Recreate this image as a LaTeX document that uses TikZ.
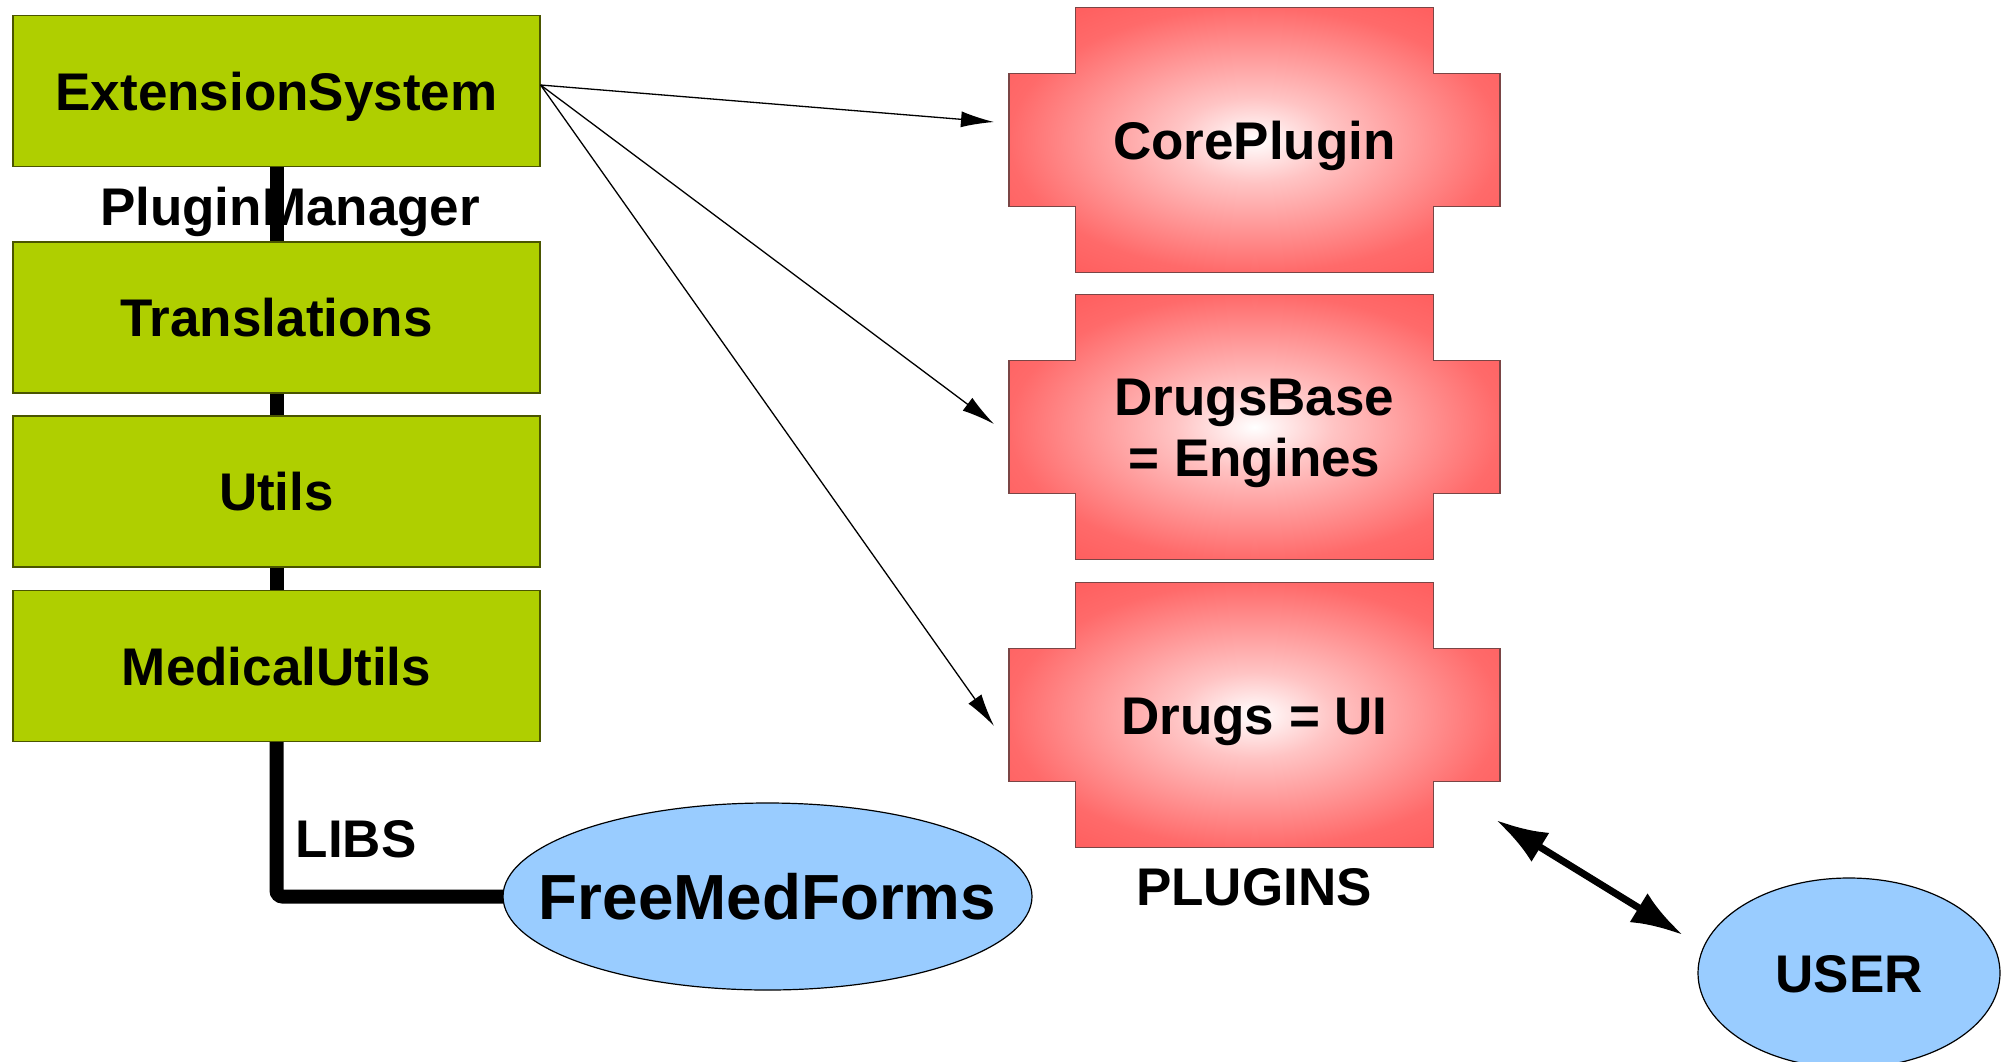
\documentclass[tikz,border=0pt]{standalone}
\usepackage{fontspec}
\setmainfont{Liberation Sans}
\usepackage{tikz}
\usetikzlibrary{shapes.geometric, arrows.meta, positioning, calc}

\definecolor{libgreen}{HTML}{AFCF00}
\definecolor{libedge}{HTML}{4A5500}
\definecolor{appblue}{HTML}{99CCFF}
\definecolor{plugin}{HTML}{FFC4C4}
\definecolor{plugmid}{HTML}{FF6A6A}
\definecolor{plugout}{HTML}{FF3A3A}
\definecolor{plugedge}{HTML}{7A4545}
\pgfdeclareradialshading{plugglow}{\pgfpoint{0bp}{0bp}}{color(0bp)=(white); color(8bp)=(plugin); color(25bp)=(plugmid); color(50bp)=(plugout); color(71bp)=(plugout)}

\begin{document}
\begin{tikzpicture}[x=0.5pt, y=-0.5pt]
\tikzstyle{lib} = [rectangle, minimum width=263.5pt, minimum height=75.5pt, text height=19pt, text depth=0pt, draw=libedge, line width=0.6pt, fill=libgreen, font=\fontsize{26.5}{30.25}\selectfont\bfseries]
\tikzstyle{plugin} = [rectangle, minimum width=245.5pt, minimum height=132.5pt, outer sep=0pt, align=center, text height=19pt, text depth=0pt, font=\fontsize{26.5}{30.25}\selectfont\bfseries]
\tikzstyle{plugshape} = [draw=plugedge, line width=0.6pt, shading=plugglow]
\tikzstyle{app} = [ellipse, draw=black, line width=0.6pt, fill=appblue, inner sep=0pt, outer sep=0pt]
\tikzstyle{caption} = [text height=19pt, text depth=0pt, inner sep=0pt, font=\fontsize{26.5}{30.25}\selectfont\bfseries]
\tikzstyle{arrow} = [line width=0.65pt, -{Latex[length=16.5pt,width=8pt]}]
\tikzstyle{link} = [line width=7pt, rounded corners=3pt]
\tikzstyle{both} = [line width=3.5pt, {Latex[length=26pt,width=17pt]}-{Latex[length=26pt,width=17pt]}]

\useasboundingbox (0,0) rectangle (2008,1061);

\node[lib] (es) at (276.5,91) {ExtensionSystem};
\node[lib] (tr) at (276.5,317.5) {Translations};
\node[lib] (ut) at (276.5,491.5) {Utils};
\node[lib] (mu) at (276.5,666) {MedicalUtils};
\node[caption] (pm) at (290,206) {PluginManager};
\node[caption] (libs) at (356,838) {LIBS};

\node[app, minimum width=264.5pt, minimum height=93.5pt,
  label={[caption, font=\fontsize{31.9}{38}\selectfont\bfseries, text height=22.8pt]center:FreeMedForms}] (fmf) at (767.5,896.5) {};

\draw[link] (es) -- (tr);
\draw[link] (tr) -- (ut);
\draw[link] (ut) -- (mu);
\draw[link] (mu) |- (fmf);

\foreach \cy in {140,427,715}
  \draw[plugshape, shift={(1254.5,\cy)}] (-179,-132.5) -- (179,-132.5) -- (179,-66.5) -- (245.5,-66.5) -- (245.5,66.5) -- (179,66.5) -- (179,132.5) -- (-179,132.5) -- (-179,66.5) -- (-245.5,66.5) -- (-245.5,-66.5) -- (-179,-66.5) -- cycle;

\node[plugin] (core) at (1254.5,140) {CorePlugin};
\node[plugin, text height=49.25pt, text depth=0pt] (dbase) at (1254.5,427) {DrugsBase\\= Engines};
\node[plugin] (drugs) at (1254.5,715) {Drugs = UI};
\node[caption] (plugins) at (1254,886) {PLUGINS};

\node[app, minimum width=151pt, minimum height=95pt,
  label={[caption]center:USER}] (user) at (1849,973) {};

\draw[arrow] ($(es.east)+(0,-6)$) -- ($(core.west)+(-15,-18)$);
\draw[arrow] ($(es.east)+(0,-6)$) -- ($(dbase.west)+(-15,-3)$);
\draw[arrow] ($(es.east)+(0,-6)$) -- ($(drugs.west)+(-15,11)$);
\draw[both] ($(drugs.south east)+(-4,-27.5)$) -- ($(user.west)+(-15,-38)$);
\end{tikzpicture}
\end{document}
